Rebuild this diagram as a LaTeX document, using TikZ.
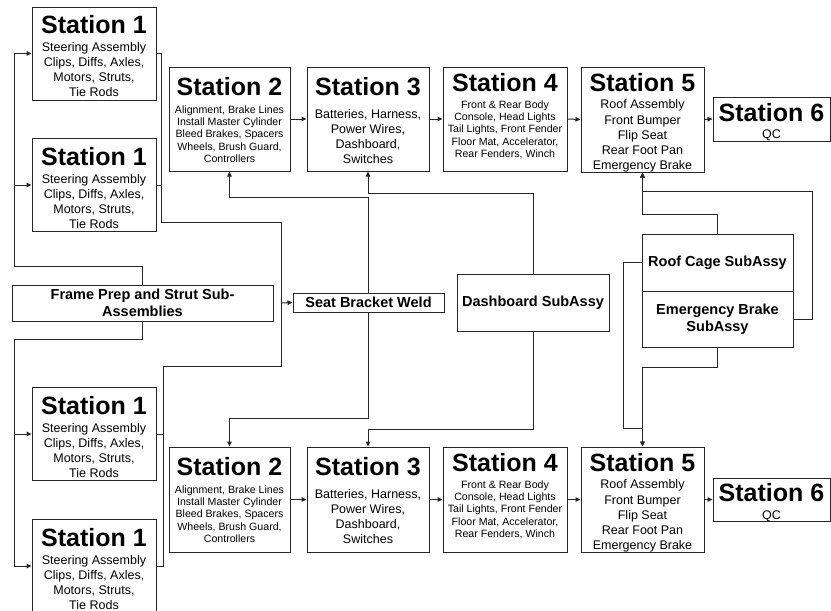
\documentclass[tikz,border=0pt]{standalone}
\usepackage{fontspec}
\setmainfont{Liberation Sans}
\usetikzlibrary{arrows.meta}
\newcommand\ttlfont{\fontsize{25}{25}\selectfont\bfseries}
\newcommand\bodyfont{\fontsize{12.5}{15}\selectfont}
\newcommand\bodyfontb{\fontsize{12.5}{15.3}\selectfont}
\newcommand\smallbody{\fontsize{10.6}{12.4}\selectfont}
\newcommand\subfont{\fontsize{14.5}{17.4}\selectfont\bfseries}
\begin{document}
\begin{tikzpicture}[x=1pt,y=-1pt,
  box/.style={draw=black!85, line width=1pt, inner sep=0pt, rectangle},
  ttl/.style={anchor=north, inner sep=0pt, font=\ttlfont},
  bodyA/.style={anchor=north, inner sep=0pt, align=center, font=\bodyfont},
  bodyC/.style={anchor=north, inner sep=0pt, align=center, font=\bodyfontb},
  bodyB/.style={anchor=north, inner sep=0pt, align=center, font=\smallbody},
  sub/.style={box, align=center, font=\subfont},
  conn/.style={draw=black!85, line width=1pt},
  arr/.style={conn, -{Triangle[length=5pt,width=4.5pt]}}]
\useasboundingbox (0,0) rectangle (831,611);

% ---------- Station 1 boxes ----------
\node[box, minimum width=124pt, minimum height=93pt] (s1a) at (94,53.5) {};
\node[ttl] (s1a-t) at (94,15) {Station 1};
\node[bodyA] (s1a-b) at (94,42.5) {Steering Assembly\\Clips, Diffs, Axles,\\Motors, Struts,\\Tie Rods};

\node[box, minimum width=124pt, minimum height=93pt] (s1b) at (94,185) {};
\node[ttl] (s1b-t) at (94,147) {Station 1};
\node[bodyA] (s1b-b) at (94,174.5) {Steering Assembly\\Clips, Diffs, Axles,\\Motors, Struts,\\Tie Rods};

\node[box, minimum width=124pt, minimum height=93pt] (s1c) at (94,434) {};
\node[ttl] (s1c-t) at (94,396) {Station 1};
\node[bodyA] (s1c-b) at (94,423.5) {Steering Assembly\\Clips, Diffs, Axles,\\Motors, Struts,\\Tie Rods};

\node[box, minimum width=124pt, minimum height=93pt] (s1d) at (94,566) {};
\node[ttl] (s1d-t) at (94,528) {Station 1};
\node[bodyA] (s1d-b) at (94,555.5) {Steering Assembly\\Clips, Diffs, Axles,\\Motors, Struts,\\Tie Rods};

% ---------- Upper row ----------
\node[box, minimum width=121pt, minimum height=104pt] (s2u) at (229.5,119) {};
\node[ttl] (s2u-t) at (229.5,77) {Station 2};
\node[bodyB] (s2u-b) at (229.5,105.2) {Alignment, Brake Lines\\Install Master Cylinder\\Bleed Brakes, Spacers\\Wheels, Brush Guard,\\Controllers};

\node[box, minimum width=122pt, minimum height=104pt] (s3u) at (368,119) {};
\node[ttl] (s3u-t) at (368,77) {Station 3};
\node[bodyA] (s3u-b) at (368,108.8) {Batteries, Harness,\\Power Wires,\\Dashboard,\\Switches};

\node[box, minimum width=124pt, minimum height=104pt] (s4u) at (505,119) {};
\node[ttl] (s4u-t) at (505,73.3) {Station 4};
\node[bodyB] (s4u-b) at (505,100.2) {Front \& Rear Body\\Console, Head Lights\\Tail Lights, Front Fender\\Floor Mat, Accelerator,\\Rear Fenders, Winch};

\node[box, minimum width=123pt, minimum height=105pt] (s5u) at (642.5,119.5) {};
\node[ttl] (s5u-t) at (642.5,73.3) {Station 5};
\node[bodyC] (s5u-b) at (642.5,99.5) {Roof Assembly\\Front Bumper\\Flip Seat\\Rear Foot Pan\\Emergency Brake};

\node[box, minimum width=117pt, minimum height=44pt] (s6u) at (771.5,119) {};
\node[ttl] (s6u-t) at (771.5,103) {Station 6};
\node[bodyA] (s6u-b) at (771.5,129.5) {QC};

% ---------- Lower row ----------
\node[box, minimum width=121pt, minimum height=105pt] (s2d) at (229.5,499.5) {};
\node[ttl] (s2d-t) at (229.5,457) {Station 2};
\node[bodyB] (s2d-b) at (229.5,485.2) {Alignment, Brake Lines\\Install Master Cylinder\\Bleed Brakes, Spacers\\Wheels, Brush Guard,\\Controllers};

\node[box, minimum width=122pt, minimum height=105pt] (s3d) at (368,499.5) {};
\node[ttl] (s3d-t) at (368,457) {Station 3};
\node[bodyA] (s3d-b) at (368,488.8) {Batteries, Harness,\\Power Wires,\\Dashboard,\\Switches};

\node[box, minimum width=124pt, minimum height=105pt] (s4d) at (505,499.5) {};
\node[ttl] (s4d-t) at (505,453.3) {Station 4};
\node[bodyB] (s4d-b) at (505,480.2) {Front \& Rear Body\\Console, Head Lights\\Tail Lights, Front Fender\\Floor Mat, Accelerator,\\Rear Fenders, Winch};

\node[box, minimum width=123pt, minimum height=105pt] (s5d) at (642.5,499.5) {};
\node[ttl] (s5d-t) at (642.5,453.3) {Station 5};
\node[bodyC] (s5d-b) at (642.5,479.5) {Roof Assembly\\Front Bumper\\Flip Seat\\Rear Foot Pan\\Emergency Brake};

\node[box, minimum width=117pt, minimum height=43pt] (s6d) at (771.5,499.5) {};
\node[ttl] (s6d-t) at (771.5,483.5) {Station 6};
\node[bodyA] (s6d-b) at (771.5,510.5) {QC};

% ---------- Sub-assemblies ----------
\node[sub, minimum width=261pt, minimum height=36pt] (fp) at (142.5,303) {Frame Prep and Strut Sub-\\Assemblies};
\node[sub, minimum width=151pt, minimum height=19pt] (sbw) at (368.5,302.5) {Seat Bracket Weld};
\node[sub, minimum width=152pt, minimum height=57pt] (dash) at (533,302.5) {Dashboard SubAssy};
\node[sub, minimum width=151pt, minimum height=57pt] (rc) at (717.5,262.5) {Roof Cage SubAssy};
\node[sub, minimum width=151pt, minimum height=56pt] (eb) at (717.5,319) {Emergency Brake\\SubAssy};

% ---------- helper coordinates ----------
\coordinate (cL1) at (14,266);
\coordinate (cL2) at (14,339);
\coordinate (jA) at (161,222);
\coordinate (jB) at (281,303);
\coordinate (jC) at (163,366);
\coordinate (yU1) at (0,197);
\coordinate (yU2) at (0,193);
\coordinate (yD1) at (0,418);
\coordinate (yD2) at (0,429);
\coordinate (yR1) at (0,214);
\coordinate (cR2) at (812,191);
\coordinate (yR3) at (0,367);
\coordinate (cR4) at (623,428);

% ---------- Frame prep to Station 1 ----------
\draw[arr] (fp.north) |- (cL1) |- (s1a.west);
\draw[arr] (cL1 |- s1b.west) -- (s1b.west);
\draw[arr] (fp.south) |- (cL2) |- (s1d.west);
\draw[arr] (cL2 |- s1c.west) -- (s1c.west);

% ---------- Station 1 to Seat Bracket Weld ----------
\draw[conn] (s1a.east) -| (jA);
\draw[conn] (s1b.east) -- (s1b.east -| jA);
\draw[conn] (jA) -| (jB);
\draw[conn] (s1c.east) -| (jC);
\draw[conn] (s1d.east) -| (jC);
\draw[conn] (jC) -| (jB);
\draw[arr] (jB) -- (sbw.west);

% ---------- Seat Bracket Weld / Dashboard to Stations 2,3 ----------
\draw[arr] (sbw.north) |- (s2u.south |- yU1) -- (s2u.south);
\draw[arr] (dash.north) |- (s3u.south |- yU2) -- (s3u.south);
\draw[arr] (sbw.south) |- (s2d.north |- yD1) -- (s2d.north);
\draw[arr] (dash.south) |- (s3d.north |- yD2) -- (s3d.north);

% ---------- Roof cage / E-brake to Station 5 ----------
\draw[arr] (rc.north) |- (s5u.south |- yR1) -- (s5u.south);
\draw[arr] (eb.east) -| (cR2) -| (s5u.south);
\draw[arr] (eb.south) |- (s5d.north |- yR3) -- (s5d.north);
\draw[arr] (rc.west) -| (cR4) -| (s5d.north);

% ---------- Station chains ----------
\draw[arr] (s2u.east) -- (s3u.west);
\draw[arr] (s3u.east) -- (s4u.west);
\draw[arr] (s4u.east) -- (s5u.west);
\draw[arr] (s5u.east) -- (s6u.west);
\draw[arr] (s2d.east) -- (s3d.west);
\draw[arr] (s3d.east) -- (s4d.west);
\draw[arr] (s4d.east) -- (s5d.west);
\draw[arr] (s5d.east) -- (s6d.west);
\end{tikzpicture}
\end{document}
